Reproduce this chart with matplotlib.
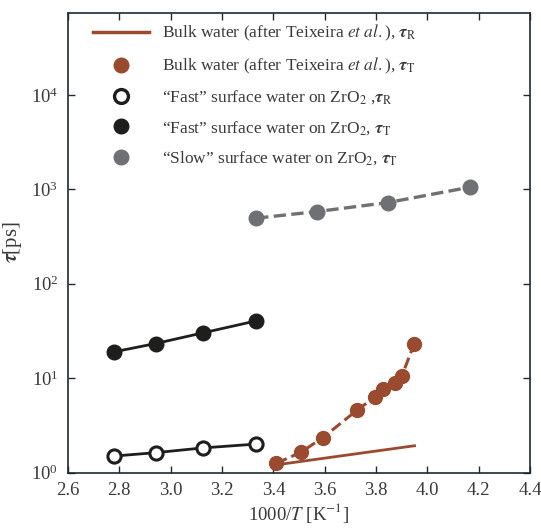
import numpy as np
import matplotlib
matplotlib.use("Agg")
from matplotlib import pyplot as plt
from matplotlib.lines import Line2D

# x = 1000/T [1/K], y = tau [ps]
bulk_R_x = [3.41, 3.95]
bulk_R_y = [1.21, 1.93]

bulk_T_x = [3.412, 3.506, 3.593, 3.727, 3.798, 3.827, 3.873, 3.901, 3.948]
bulk_T_y = [1.26, 1.64, 2.35, 4.62, 6.38, 7.65, 8.98, 10.6, 22.9]

fast_x = [2.778, 2.941, 3.125, 3.333]
fast_R_y = [1.50, 1.63, 1.83, 2.01]
fast_T_y = [19.0, 23.3, 30.2, 40.5]

slow_x = [3.333, 3.571, 3.846, 4.167]
slow_T_y = [495, 582, 724, 1055]

xticks = [2.6, 2.8, 3.0, 3.2, 3.4, 3.6, 3.8, 4.0, 4.2, 4.4]

labels = [
    r"Bulk water (after Teixeira $\it{et\ al.}$), $\boldsymbol{\tau}_\mathrm{R}$",
    r"Bulk water (after Teixeira $\it{et\ al.}$), $\boldsymbol{\tau}_\mathrm{T}$",
    r"“Fast” surface water on ZrO$_2$ ,$\boldsymbol{\tau}_\mathrm{R}$",
    r"“Fast” surface water on ZrO$_2$, $\boldsymbol{\tau}_\mathrm{T}$",
    r"“Slow” surface water on ZrO$_2$, $\boldsymbol{\tau}_\mathrm{T}$",
]

brown = "#9a4a2e"
black = "#1e1f1d"
grey = "#6e7073"
textc = "#3a3a3a"

plt.rcParams["font.family"] = ["Liberation Serif", "DejaVu Serif"]
plt.rcParams["mathtext.fontset"] = "stix"
plt.rcParams["text.color"] = textc
plt.rcParams["axes.labelcolor"] = textc
plt.rcParams["xtick.color"] = "#1f2a30"
plt.rcParams["ytick.color"] = "#1f2a30"
plt.rcParams["xtick.labelcolor"] = textc
plt.rcParams["ytick.labelcolor"] = textc

fig = plt.figure(figsize=(5.41, 5.28), dpi=100)
ax = fig.add_axes([0.1257, 0.1047, 0.854, 0.8713])

ax.plot(bulk_R_x, bulk_R_y, "-", color=brown, lw=2.0)
ax.plot(bulk_T_x, bulk_T_y, "--", color=brown, lw=2.2, marker="o", ms=10, mec=brown)
ax.plot(fast_x, fast_R_y, "-", color=black, lw=2.0, marker="o", ms=9.5, mfc="white",
        mec=black, mew=2.2)
ax.plot(fast_x, fast_T_y, "-", color=black, lw=2.0, marker="o", ms=10.5)
ax.plot(slow_x, slow_T_y, "--", color=grey, lw=2.4, marker="o", ms=10.5)

ax.set_yscale("log")
ax.set_xlim(2.6, 4.4)
ax.set_ylim(1, 10 ** 4.87)
ax.set_xticks(xticks)
ax.set_xticklabels(["%.1f" % v for v in xticks])
ax.yaxis.set_minor_locator(matplotlib.ticker.NullLocator())
ax.tick_params(direction="in", length=5, width=1, top=True, right=True,
               labelsize=13.5, pad=7)
for s in ax.spines.values():
    s.set_color("#1f2a30")
    s.set_linewidth(1.2)

ax.set_xlabel(r"1000/$\it{T}$ [K$^{-1}$]", fontsize=13.5, labelpad=1)
ax.set_ylabel(r"$\boldsymbol{\tau}$[ps]", fontsize=15)
ax.yaxis.set_label_coords(-0.095, 0.5)

# legend: first entry line only, the rest markers only
handles = [
    Line2D([], [], color=brown, lw=2.5),
    Line2D([], [], ls="none", marker="o", ms=10.5, color=brown),
    Line2D([], [], ls="none", marker="o", ms=10, mfc="white", mec=black, mew=2.4),
    Line2D([], [], ls="none", marker="o", ms=10.5, color=black),
    Line2D([], [], ls="none", marker="o", ms=10.5, color=grey),
]
leg = ax.legend(handles, labels, loc="upper left", bbox_to_anchor=(0.054, 0.977),
                frameon=False, fontsize=12.5, handlelength=3.2, handletextpad=0.8,
                labelspacing=0.72, borderpad=0, borderaxespad=0)
for t in leg.get_texts():
    t.set_color(textc)

plt.savefig("out.png", dpi=100)
